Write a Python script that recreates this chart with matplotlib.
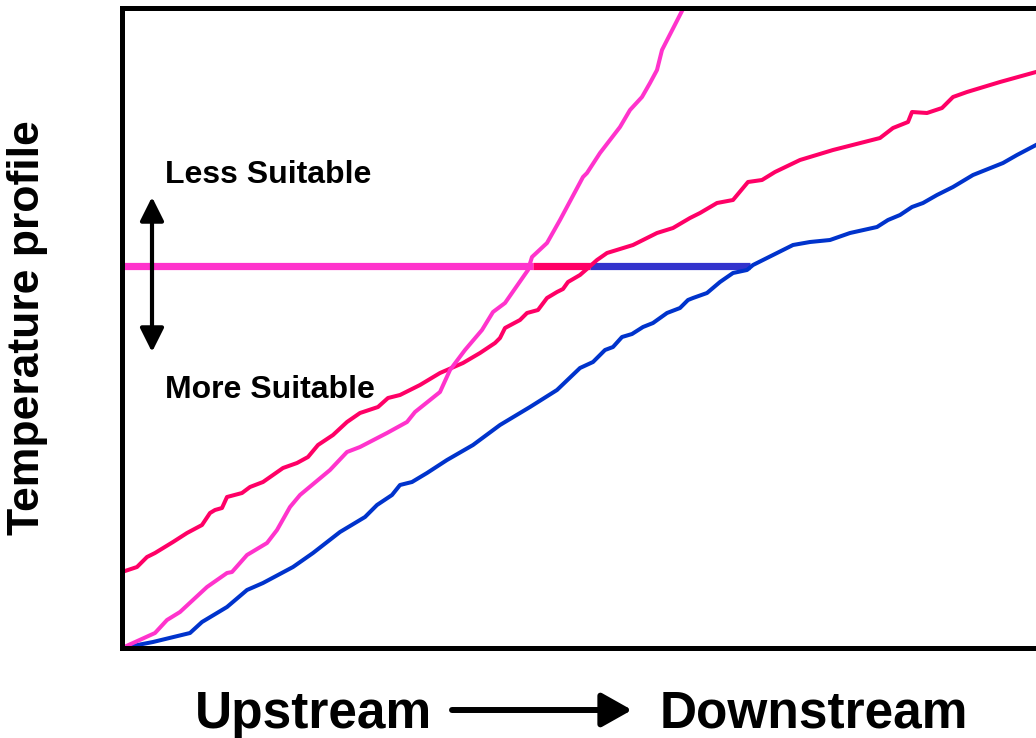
import matplotlib
matplotlib.use("Agg")
import matplotlib.pyplot as plt

plt.rcParams['font.family'] = ['Liberation Sans', 'DejaVu Sans']

# profiles (distance downstream, temperature), arbitrary units
dist_blue = [0, 31, 68, 80, 105, 125, 141, 171, 191, 218, 243, 255, 270, 278, 290, 305,
             325, 351, 378, 408, 435, 458, 471, 483, 491, 500, 510, 521, 531, 545, 558,
             566, 571, 585, 598, 611, 625, 631, 645, 671, 688, 708, 728, 755, 766, 778,
             790, 801, 815, 831, 851, 881, 895, 914]
temp_blue = [0, 6, 15, 26, 41, 58, 65, 81, 95, 116, 131, 143, 153, 163, 166, 175,
             188, 203, 223, 241, 258, 280, 286, 298, 301, 311, 314, 321, 325, 335, 340,
             348, 350, 355, 366, 375, 378, 383, 390, 403, 406, 408, 415, 421, 428, 433,
             441, 445, 453, 461, 473, 485, 493, 503]

dist_red = [0, 15, 25, 33, 51, 65, 80, 88, 93, 100, 105, 120, 128, 141, 161, 175, 186,
            196, 211, 225, 238, 256, 266, 278, 298, 318, 341, 358, 373, 378, 383, 398,
            405, 416, 425, 435, 441, 446, 458, 466, 475, 485, 511, 535, 551, 568, 578,
            595, 611, 626, 640, 653, 678, 711, 758, 771, 786, 790, 805, 820, 831, 845,
            878, 914]
temp_red = [76, 81, 91, 95, 106, 115, 123, 135, 138, 140, 151, 155, 161, 166, 180, 185,
            191, 203, 213, 226, 235, 241, 250, 253, 263, 275, 285, 295, 305, 310, 320,
            328, 335, 338, 350, 356, 359, 366, 373, 380, 388, 395, 403, 415, 420, 430,
            435, 445, 448, 466, 468, 476, 488, 498, 510, 520, 526, 536, 535, 540, 551,
            556, 566, 576]

dist_mag = [0, 33, 45, 58, 85, 105, 110, 125, 145, 155, 168, 178, 208, 225, 238, 265,
            285, 293, 308, 318, 328, 343, 360, 371, 383, 406, 410, 425, 438, 461, 465,
            478, 498, 508, 520, 528, 535, 540, 561]
temp_mag = [0, 15, 28, 36, 61, 75, 76, 93, 105, 118, 141, 153, 178, 196, 201, 215,
            226, 236, 248, 256, 278, 298, 318, 336, 345, 378, 391, 405, 428, 471, 475,
            495, 521, 538, 551, 565, 578, 598, 639]

# suitability threshold and where each profile crosses it
threshold = 382
cross_mag = 411
cross_red = 468
cross_blue = 628

blue = "#0033CC"
red = "#FF0066"
magenta = "#FF33CC"
thr_blue = "#3333CC"

fig = plt.figure(figsize=(10.36, 7.38), dpi=100)
ax = fig.add_axes([122/1036, 90/738, 914/1036, 640/738])

# threshold segments
ax.plot([0, cross_mag], [threshold, threshold], color=magenta, lw=5.2, solid_capstyle="butt")
ax.plot([cross_mag, cross_red], [threshold, threshold], color=red, lw=5.2, solid_capstyle="butt")
ax.plot([cross_red, cross_blue], [threshold, threshold], color=thr_blue, lw=5.2, solid_capstyle="butt")

ax.plot(dist_blue, temp_blue, color=blue, lw=2.9, solid_joinstyle="round")
ax.plot(dist_red, temp_red, color=red, lw=2.9, solid_joinstyle="round")
ax.plot(dist_mag, temp_mag, color=magenta, lw=2.9, solid_joinstyle="round")

ax.annotate("", xy=(30, 451), xytext=(30, 296),
            arrowprops=dict(arrowstyle="<|-|>,head_length=0.8,head_width=0.4",
                            color="black", lw=3, mutation_scale=18,
                            shrinkA=0, shrinkB=0))
ax.text(43, 465, "Less Suitable", fontsize=23, fontweight="bold", va="baseline")
ax.text(43, 250, "More Suitable", fontsize=23, fontweight="bold", va="baseline")

ax.set_xlim(0, 914)
ax.set_ylim(0, 640)
ax.set_xticks([])
ax.set_yticks([])
for side in ["left", "top", "bottom"]:
    ax.spines[side].set_linewidth(3.6)
ax.spines["right"].set_visible(False)

fig.text(28/1036, 1 - 328/738, "Temperature profile", rotation=90, fontsize=32,
         fontweight="bold", ha="center", va="center")
fig.text(195/1036, 10/738, "Upstream", fontsize=37, fontweight="bold", va="baseline")
fig.text(660/1036, 10/738, "Downstream", fontsize=37, fontweight="bold", va="baseline")
fig.add_artist(matplotlib.patches.FancyArrowPatch(
    (452/1036, 1 - 710/738), (632/1036, 1 - 710/738), transform=fig.transFigure,
    arrowstyle="-|>,head_length=0.8,head_width=0.45", mutation_scale=23,
    color="black", lw=4.3, shrinkA=0, shrinkB=0))

fig.savefig("out.png", dpi=100)
